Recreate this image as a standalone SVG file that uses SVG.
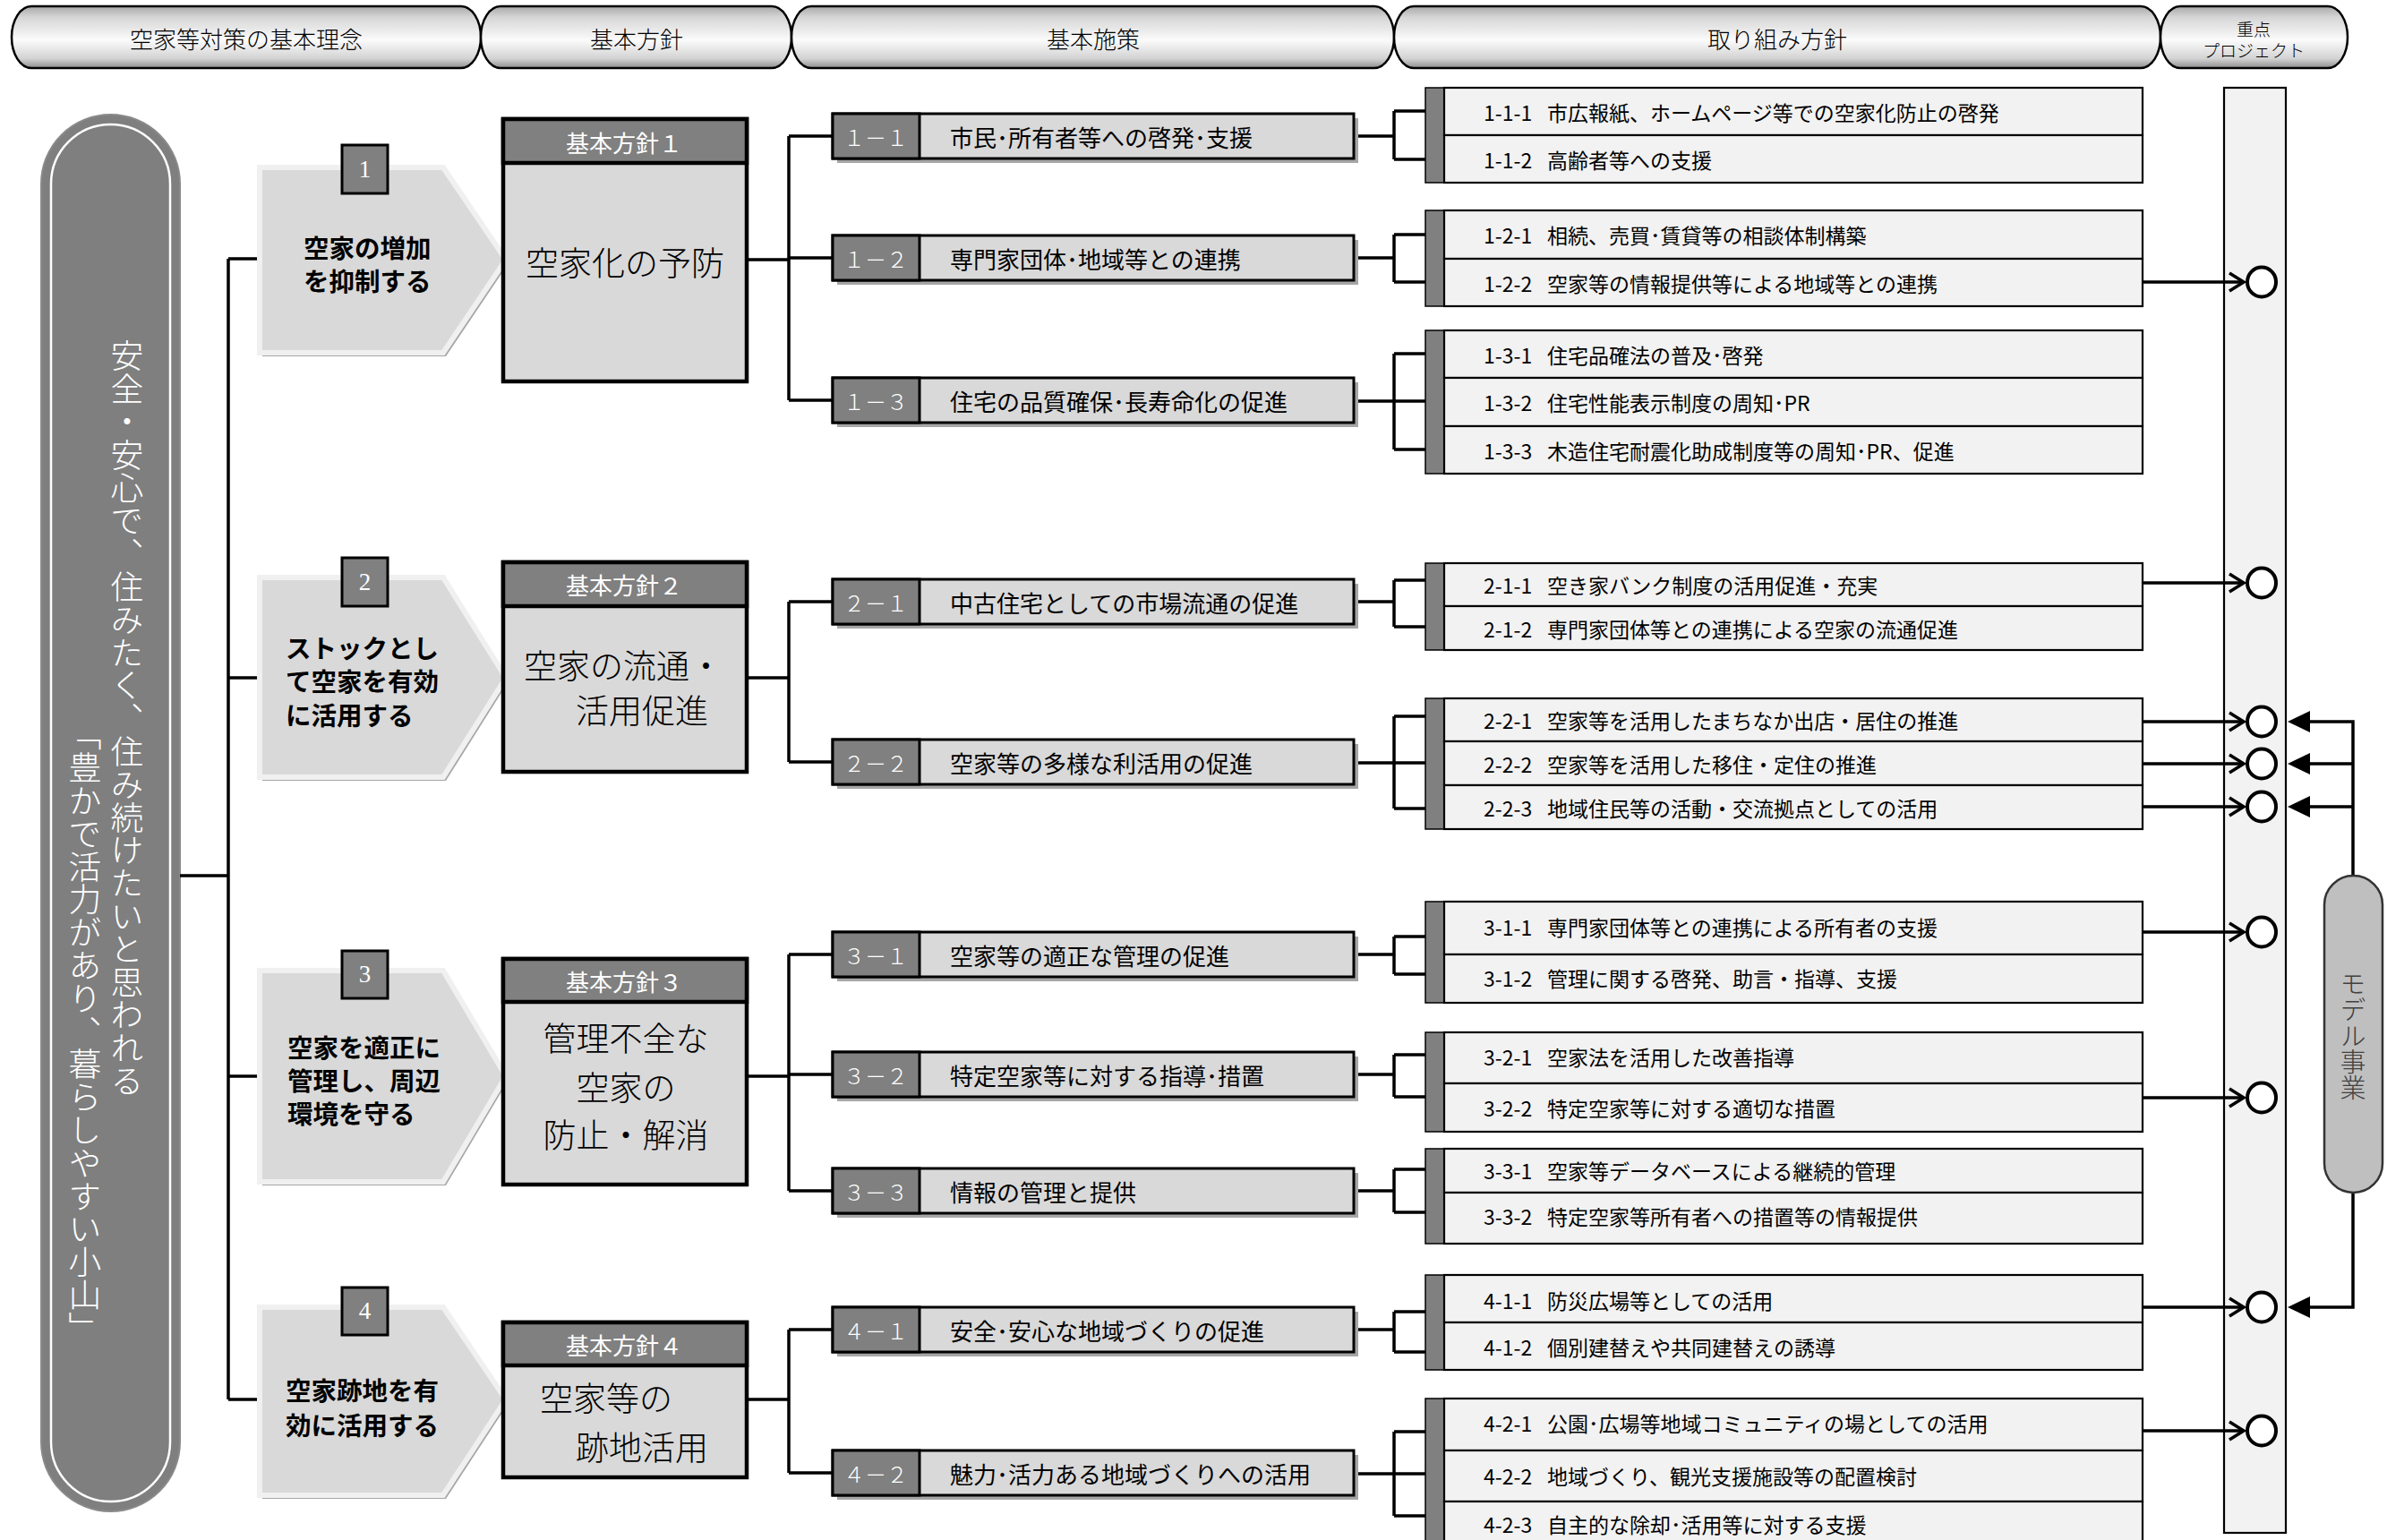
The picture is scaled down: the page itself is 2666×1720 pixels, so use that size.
<svg xmlns="http://www.w3.org/2000/svg" width="2666" height="1720" viewBox="0 0 2666 1720">
<defs>
<linearGradient id="hg" x1="0" y1="0" x2="0" y2="1">
<stop offset="0" stop-color="#a8a8a8"/>
<stop offset="0.18" stop-color="#d6d6d6"/>
<stop offset="0.55" stop-color="#fbfbfb"/>
<stop offset="0.85" stop-color="#d2d2d2"/>
<stop offset="1" stop-color="#8e8e8e"/>
</linearGradient>
</defs>
<style>
.hbar{fill:url(#hg);stroke:#000;stroke-width:2.5}
.ht{font-family:"Noto Sans CJK JP","Noto Sans",sans-serif;font-weight:300;font-size:26px;fill:#000;text-anchor:middle;dominant-baseline:central}
.ln{stroke:#000;stroke-width:3.5;fill:none}
.arr{fill:#d9d9d9;stroke:#f0f0f0;stroke-width:6;stroke-linejoin:miter}
.arrsh{fill:#a6a6a6}
.at{font-family:"Noto Sans CJK JP","Noto Sans",sans-serif;font-weight:700;font-size:28.5px;fill:#000;dominant-baseline:central}
.badge{fill:#808080;stroke:#000;stroke-width:3}
.bt{font-family:"Liberation Serif","Noto Sans CJK JP",serif;font-size:27px;fill:#fff;text-anchor:middle;dominant-baseline:central}
.hh{fill:#808080;stroke:#000;stroke-width:4.5}
.hb{fill:#d9d9d9;stroke:#000;stroke-width:4.5}
.hht{font-family:"Noto Sans CJK JP","Noto Sans",sans-serif;font-weight:400;font-size:26px;fill:#fff;text-anchor:middle;dominant-baseline:central}
.hbt{font-family:"Noto Sans CJK JP","Noto Sans",sans-serif;font-weight:300;font-size:37px;fill:#000;dominant-baseline:central}
.ssh{fill:#a6a6a6}
.sb{fill:#d9d9d9;stroke:#000;stroke-width:3}
.sl{fill:#808080;stroke:#000;stroke-width:3}
.slt{font-family:"Noto Sans CJK JP","Noto Sans",sans-serif;font-weight:300;font-size:24px;fill:#fff;text-anchor:middle;dominant-baseline:central}
.st{font-family:"Noto Sans CJK JP","Noto Sans",sans-serif;font-size:26px;fill:#000;dominant-baseline:central}
.strip{fill:#808080;stroke:#000;stroke-width:1.5}
.row{fill:#f2f2f2;stroke:#000;stroke-width:2.2}
.it{font-family:"Noto Sans CJK JP","Noto Sans",sans-serif;font-size:23px;fill:#000;dominant-baseline:central}
.circ{fill:#fff;stroke:#000;stroke-width:4}
.chev{fill:none;stroke:#000;stroke-width:3.5}
.tri{fill:#000}
.vt{font-family:"Noto Sans CJK JP","Noto Sans",sans-serif;font-weight:300;writing-mode:vertical-rl;fill:#fff}
</style>

<!-- Header bars -->
<g id="header">
<path class="hbar" d="M35,7 H515 A22 34.5 0 0 1 515,76 H35 A22 34.5 0 0 1 35,7 Z"/>
<path class="hbar" d="M559,7 H862 A22 34.5 0 0 1 862,76 H559 A22 34.5 0 0 1 559,7 Z"/>
<path class="hbar" d="M906,7 H1535 A22 34.5 0 0 1 1535,76 H906 A22 34.5 0 0 1 906,7 Z"/>
<path class="hbar" d="M1579,7 H2391 A22 34.5 0 0 1 2391,76 H1579 A22 34.5 0 0 1 1579,7 Z"/>
<path class="hbar" d="M2435,7 H2600 A22 34.5 0 0 1 2600,76 H2435 A22 34.5 0 0 1 2435,7 Z"/>
<text class="ht" x="275" y="42">空家等対策の基本理念</text>
<text class="ht" x="711" y="42">基本方針</text>
<text class="ht" x="1221" y="42">基本施策</text>
<text class="ht" x="1985" y="42">取り組み方針</text>
<text class="ht" x="2517" y="31" style="font-size:19px">重点</text>
<text class="ht" x="2517" y="55" style="font-size:19px">プロジェクト</text>
</g>

<!-- Basic philosophy pill -->
<g id="philosophy">
<rect x="46" y="128" width="155" height="1560" rx="77.5" ry="77.5" fill="#7f7f7f" stroke="#8a8a8a" stroke-width="2"/>
<rect x="57" y="139" width="133" height="1538" rx="66.5" ry="66.5" fill="none" stroke="#fff" stroke-width="2.5"/>
<text class="vt" x="142" y="379" style="font-size:36.8px">安全・安心で、住みたく、住み続けたいと思われる</text>
<text class="vt" x="95" y="802" style="font-size:36.8px">「豊かで活力があり、暮らしやすい小山」</text>
</g>

<!-- Connectors -->
<g id="connectors">
<path class="ln" d="M201,978 H255 M255,289 V1563 M255,289 H292 M255,757 H292 M255,1202 H292 M255,1563 H292"/>
<path class="ln" d="M834,290 H881 M881,152 V447 M881,152 H930 M881,288 H930 M881,447 H930"/>
<path class="ln" d="M834,757 H881 M881,672 V851 M881,672 H930 M881,851 H930"/>
<path class="ln" d="M834,1202 H881 M881,1066 V1330 M881,1066 H930 M881,1200 H930 M881,1330 H930"/>
<path class="ln" d="M834,1563 H881 M881,1485 V1645 M881,1485 H930 M881,1645 H930"/>
<path class="ln" d="M1512,152 H1557 M1557,124 V178 M1557,124 H1592 M1557,178 H1592"/>
<path class="ln" d="M1512,288 H1557 M1557,262 V315 M1557,262 H1592 M1557,315 H1592"/>
<path class="ln" d="M1512,448 H1592 M1557,395 V502 M1557,395 H1592 M1557,502 H1592"/>
<path class="ln" d="M1512,672 H1557 M1557,648 V700 M1557,648 H1592 M1557,700 H1592"/>
<path class="ln" d="M1512,852 H1592 M1557,800 V903 M1557,800 H1592 M1557,903 H1592"/>
<path class="ln" d="M1512,1066 H1557 M1557,1046 V1088 M1557,1046 H1592 M1557,1088 H1592"/>
<path class="ln" d="M1512,1200 H1557 M1557,1178 V1225 M1557,1178 H1592 M1557,1225 H1592"/>
<path class="ln" d="M1512,1330 H1557 M1557,1306 V1354 M1557,1306 H1592 M1557,1354 H1592"/>
<path class="ln" d="M1512,1485 H1557 M1557,1465 V1510 M1557,1465 H1592 M1557,1510 H1592"/>
<path class="ln" d="M1512,1646 H1592 M1557,1599 V1693 M1557,1599 H1592 M1557,1693 H1592"/>
</g>

<!-- Objectives (arrows) -->
<g id="obj1">
<polygon class="arrsh" points="293,191 498,191 568,294 498,398 293,398"/>
<polygon class="arr" points="290,187 495,187 565,290 495,394 290,394"/>
<rect class="badge" x="382" y="162" width="51" height="54"/>
<text class="bt" x="407.5" y="189">1</text>
<text class="at" x="339" y="275">空家の増加</text>
<text class="at" x="339" y="312">を抑制する</text>
</g>
<g id="obj2">
<polygon class="arrsh" points="293,649 498,649 568,761 498,872 293,872"/>
<polygon class="arr" points="290,645 495,645 565,757 495,868 290,868"/>
<rect class="badge" x="382" y="623" width="51" height="54"/>
<text class="bt" x="407.5" y="650">2</text>
<text class="at" x="319" y="722">ストックとし</text>
<text class="at" x="319" y="759">て空家を有効</text>
<text class="at" x="319" y="797">に活用する</text>
</g>
<g id="obj3">
<polygon class="arrsh" points="293,1088 498,1088 568,1206 498,1324 293,1324"/>
<polygon class="arr" points="290,1084 495,1084 565,1202 495,1320 290,1320"/>
<rect class="badge" x="382" y="1062" width="51" height="53"/>
<text class="bt" x="407.5" y="1088">3</text>
<text class="at" x="321" y="1168">空家を適正に</text>
<text class="at" x="321" y="1205">管理し、周辺</text>
<text class="at" x="321" y="1242">環境を守る</text>
</g>
<g id="obj4">
<polygon class="arrsh" points="293,1464 498,1464 568,1567 498,1674 293,1674"/>
<polygon class="arr" points="290,1460 495,1460 565,1563 495,1670 290,1670"/>
<rect class="badge" x="382" y="1438" width="51" height="53"/>
<text class="bt" x="407.5" y="1464">4</text>
<text class="at" x="319" y="1551">空家跡地を有</text>
<text class="at" x="319" y="1590">効に活用する</text>
</g>

<!-- Basic policies -->
<g id="policy1">
<rect class="hb" x="562" y="133" width="272" height="293"/>
<rect class="hh" x="562" y="133" width="272" height="49"/>
<text class="hht" x="697" y="158">基本方針１</text>
<text class="hbt" x="698" y="292" text-anchor="middle">空家化の予防</text>
</g>
<g id="policy2">
<rect class="hb" x="562" y="628" width="272" height="234"/>
<rect class="hh" x="562" y="628" width="272" height="49"/>
<text class="hht" x="697" y="652">基本方針２</text>
<text class="hbt" x="585" y="742">空家の流通・</text>
<text class="hbt" x="643" y="792">活用促進</text>
</g>
<g id="policy3">
<rect class="hb" x="562" y="1071" width="272" height="252"/>
<rect class="hh" x="562" y="1071" width="272" height="48"/>
<text class="hht" x="697" y="1095">基本方針３</text>
<text class="hbt" x="699" y="1158" text-anchor="middle">管理不全な</text>
<text class="hbt" x="699" y="1213" text-anchor="middle">空家の</text>
<text class="hbt" x="699" y="1266" text-anchor="middle">防止・解消</text>
</g>
<g id="policy4">
<rect class="hb" x="562" y="1477" width="272" height="173"/>
<rect class="hh" x="562" y="1477" width="272" height="48"/>
<text class="hht" x="697" y="1501">基本方針４</text>
<text class="hbt" x="603" y="1560">空家等の</text>
<text class="hbt" x="643" y="1615">跡地活用</text>
</g>

<!-- Basic measures -->
<g id="m1-1"><rect class="ssh" x="935" y="132" width="582" height="50"/><rect class="sb" x="930" y="127" width="582" height="50"/><rect class="sl" x="930" y="127" width="97" height="50"/><text class="slt" x="978" y="152">１－１</text><text class="st" x="1061" y="152">市民･所有者等への啓発･支援</text></g>
<g id="m1-2"><rect class="ssh" x="935" y="268" width="582" height="50"/><rect class="sb" x="930" y="263" width="582" height="50"/><rect class="sl" x="930" y="263" width="97" height="50"/><text class="slt" x="978" y="288">１－２</text><text class="st" x="1061" y="288">専門家団体･地域等との連携</text></g>
<g id="m1-3"><rect class="ssh" x="935" y="427" width="582" height="50"/><rect class="sb" x="930" y="422" width="582" height="50"/><rect class="sl" x="930" y="422" width="97" height="50"/><text class="slt" x="978" y="447">１－３</text><text class="st" x="1061" y="447">住宅の品質確保･長寿命化の促進</text></g>
<g id="m2-1"><rect class="ssh" x="935" y="652" width="582" height="50"/><rect class="sb" x="930" y="647" width="582" height="50"/><rect class="sl" x="930" y="647" width="97" height="50"/><text class="slt" x="978" y="672">２－１</text><text class="st" x="1061" y="672">中古住宅としての市場流通の促進</text></g>
<g id="m2-2"><rect class="ssh" x="935" y="831" width="582" height="50"/><rect class="sb" x="930" y="826" width="582" height="50"/><rect class="sl" x="930" y="826" width="97" height="50"/><text class="slt" x="978" y="851">２－２</text><text class="st" x="1061" y="851">空家等の多様な利活用の促進</text></g>
<g id="m3-1"><rect class="ssh" x="935" y="1046" width="582" height="50"/><rect class="sb" x="930" y="1041" width="582" height="50"/><rect class="sl" x="930" y="1041" width="97" height="50"/><text class="slt" x="978" y="1066">３－１</text><text class="st" x="1061" y="1066">空家等の適正な管理の促進</text></g>
<g id="m3-2"><rect class="ssh" x="935" y="1180" width="582" height="50"/><rect class="sb" x="930" y="1175" width="582" height="50"/><rect class="sl" x="930" y="1175" width="97" height="50"/><text class="slt" x="978" y="1200">３－２</text><text class="st" x="1061" y="1200">特定空家等に対する指導･措置</text></g>
<g id="m3-3"><rect class="ssh" x="935" y="1310" width="582" height="50"/><rect class="sb" x="930" y="1305" width="582" height="50"/><rect class="sl" x="930" y="1305" width="97" height="50"/><text class="slt" x="978" y="1330">３－３</text><text class="st" x="1061" y="1330">情報の管理と提供</text></g>
<g id="m4-1"><rect class="ssh" x="935" y="1465" width="582" height="50"/><rect class="sb" x="930" y="1460" width="582" height="50"/><rect class="sl" x="930" y="1460" width="97" height="50"/><text class="slt" x="978" y="1485">４－１</text><text class="st" x="1061" y="1485">安全･安心な地域づくりの促進</text></g>
<g id="m4-2"><rect class="ssh" x="935" y="1625" width="582" height="50"/><rect class="sb" x="930" y="1620" width="582" height="50"/><rect class="sl" x="930" y="1620" width="97" height="50"/><text class="slt" x="978" y="1645">４－２</text><text class="st" x="1061" y="1645">魅力･活力ある地域づくりへの活用</text></g>

<!-- Action policies -->
<g id="a1-1">
<rect class="strip" x="1592" y="98" width="21" height="106"/>
<rect class="row" x="1613" y="98" width="780" height="53"/><rect class="row" x="1613" y="151" width="780" height="53"/>
<text class="it" y="124.5"><tspan x="1657">1-1-1</tspan><tspan x="1728">市広報紙、ホームページ等での空家化防止の啓発</tspan></text>
<text class="it" y="177.5"><tspan x="1657">1-1-2</tspan><tspan x="1728">高齢者等への支援</tspan></text>
</g>
<g id="a1-2">
<rect class="strip" x="1592" y="235" width="21" height="107"/>
<rect class="row" x="1613" y="235" width="780" height="54"/><rect class="row" x="1613" y="289" width="780" height="53"/>
<text class="it" y="262"><tspan x="1657">1-2-1</tspan><tspan x="1728">相続、売買･賃貸等の相談体制構築</tspan></text>
<text class="it" y="315.5"><tspan x="1657">1-2-2</tspan><tspan x="1728">空家等の情報提供等による地域等との連携</tspan></text>
</g>
<g id="a1-3">
<rect class="strip" x="1592" y="369" width="21" height="160"/>
<rect class="row" x="1613" y="369" width="780" height="53"/><rect class="row" x="1613" y="422" width="780" height="54"/><rect class="row" x="1613" y="476" width="780" height="53"/>
<text class="it" y="395.5"><tspan x="1657">1-3-1</tspan><tspan x="1728">住宅品確法の普及･啓発</tspan></text>
<text class="it" y="449"><tspan x="1657">1-3-2</tspan><tspan x="1728">住宅性能表示制度の周知･PR</tspan></text>
<text class="it" y="502.5"><tspan x="1657">1-3-3</tspan><tspan x="1728">木造住宅耐震化助成制度等の周知･PR、促進</tspan></text>
</g>
<g id="a2-1">
<rect class="strip" x="1592" y="629" width="21" height="97"/>
<rect class="row" x="1613" y="629" width="780" height="48"/><rect class="row" x="1613" y="677" width="780" height="49"/>
<text class="it" y="653"><tspan x="1657">2-1-1</tspan><tspan x="1728">空き家バンク制度の活用促進・充実</tspan></text>
<text class="it" y="701.5"><tspan x="1657">2-1-2</tspan><tspan x="1728">専門家団体等との連携による空家の流通促進</tspan></text>
</g>
<g id="a2-2">
<rect class="strip" x="1592" y="780" width="21" height="146"/>
<rect class="row" x="1613" y="780" width="780" height="48"/><rect class="row" x="1613" y="828" width="780" height="49"/><rect class="row" x="1613" y="877" width="780" height="49"/>
<text class="it" y="804"><tspan x="1657">2-2-1</tspan><tspan x="1728">空家等を活用したまちなか出店・居住の推進</tspan></text>
<text class="it" y="852.5"><tspan x="1657">2-2-2</tspan><tspan x="1728">空家等を活用した移住・定住の推進</tspan></text>
<text class="it" y="901.5"><tspan x="1657">2-2-3</tspan><tspan x="1728">地域住民等の活動・交流拠点としての活用</tspan></text>
</g>
<g id="a3-1">
<rect class="strip" x="1592" y="1007" width="21" height="113"/>
<rect class="row" x="1613" y="1007" width="780" height="59"/><rect class="row" x="1613" y="1066" width="780" height="54"/>
<text class="it" y="1035"><tspan x="1657">3-1-1</tspan><tspan x="1728">専門家団体等との連携による所有者の支援</tspan></text>
<text class="it" y="1092"><tspan x="1657">3-1-2</tspan><tspan x="1728">管理に関する啓発、助言・指導、支援</tspan></text>
</g>
<g id="a3-2">
<rect class="strip" x="1592" y="1153" width="21" height="111"/>
<rect class="row" x="1613" y="1153" width="780" height="57"/><rect class="row" x="1613" y="1210" width="780" height="54"/>
<text class="it" y="1180"><tspan x="1657">3-2-1</tspan><tspan x="1728">空家法を活用した改善指導</tspan></text>
<text class="it" y="1237"><tspan x="1657">3-2-2</tspan><tspan x="1728">特定空家等に対する適切な措置</tspan></text>
</g>
<g id="a3-3">
<rect class="strip" x="1592" y="1283" width="21" height="106"/>
<rect class="row" x="1613" y="1283" width="780" height="49"/><rect class="row" x="1613" y="1332" width="780" height="57"/>
<text class="it" y="1307"><tspan x="1657">3-3-1</tspan><tspan x="1728">空家等データベースによる継続的管理</tspan></text>
<text class="it" y="1358"><tspan x="1657">3-3-2</tspan><tspan x="1728">特定空家等所有者への措置等の情報提供</tspan></text>
</g>
<g id="a4-1">
<rect class="strip" x="1592" y="1424" width="21" height="106"/>
<rect class="row" x="1613" y="1424" width="780" height="53"/><rect class="row" x="1613" y="1477" width="780" height="53"/>
<text class="it" y="1452"><tspan x="1657">4-1-1</tspan><tspan x="1728">防災広場等としての活用</tspan></text>
<text class="it" y="1503.5"><tspan x="1657">4-1-2</tspan><tspan x="1728">個別建替えや共同建替えの誘導</tspan></text>
</g>
<g id="a4-2">
<rect class="strip" x="1592" y="1562" width="21" height="172"/>
<rect class="row" x="1613" y="1562" width="780" height="58"/><rect class="row" x="1613" y="1620" width="780" height="57"/><rect class="row" x="1613" y="1677" width="780" height="57"/>
<text class="it" y="1589"><tspan x="1657">4-2-1</tspan><tspan x="1728">公園･広場等地域コミュニティの場としての活用</tspan></text>
<text class="it" y="1648"><tspan x="1657">4-2-2</tspan><tspan x="1728">地域づくり、観光支援施設等の配置検討</tspan></text>
<text class="it" y="1702"><tspan x="1657">4-2-3</tspan><tspan x="1728">自主的な除却･活用等に対する支援</tspan></text>
</g>

<!-- Priority project column -->
<g id="priority">
<rect x="2484" y="98" width="69" height="1614" fill="#f2f2f2" stroke="#000" stroke-width="2.2"/>
</g>

<g id="priority-links">
<path class="ln" d="M2393,315 H2505 M2393,651 H2505 M2393,806 H2505 M2393,853 H2505 M2393,901 H2505 M2393,1041 H2505 M2393,1226 H2505 M2393,1460 H2505 M2393,1598 H2505"/>
<path class="chev" d="M2490,305 L2506,315 L2490,325 M2490,641 L2506,651 L2490,661 M2490,796 L2506,806 L2490,816 M2490,843 L2506,853 L2490,863 M2490,891 L2506,901 L2490,911 M2490,1031 L2506,1041 L2490,1051 M2490,1216 L2506,1226 L2490,1236 M2490,1450 L2506,1460 L2490,1470 M2490,1588 L2506,1598 L2490,1608"/>
<ellipse class="circ" cx="2526" cy="315" rx="16" ry="16.5"/>
<ellipse class="circ" cx="2526" cy="651" rx="16" ry="16.5"/>
<ellipse class="circ" cx="2526" cy="806" rx="16" ry="16.5"/>
<ellipse class="circ" cx="2526" cy="853" rx="16" ry="16.5"/>
<ellipse class="circ" cx="2526" cy="901" rx="16" ry="16.5"/>
<ellipse class="circ" cx="2526" cy="1041" rx="16" ry="16.5"/>
<ellipse class="circ" cx="2526" cy="1226" rx="16" ry="16.5"/>
<ellipse class="circ" cx="2526" cy="1460" rx="16" ry="16.5"/>
<ellipse class="circ" cx="2526" cy="1598" rx="16" ry="16.5"/>
<path class="ln" d="M2628,978 V806 H2578 M2628,853 H2578 M2628,901 H2578 M2628,1332 V1460 H2578"/>
<polygon class="tri" points="2555,806 2580,794 2580,818"/>
<polygon class="tri" points="2555,853 2580,841 2580,865"/>
<polygon class="tri" points="2555,901 2580,889 2580,913"/>
<polygon class="tri" points="2555,1460 2580,1448 2580,1472"/>
</g>

<!-- Model project -->
<g id="model">
<rect x="2596" y="978" width="65" height="354" rx="32.5" ry="32.5" fill="#bfbfbf" stroke="#333" stroke-width="2.5"/>
<text class="vt" x="2628" y="1084" style="font-size:29px;fill:#404040">モデル事業</text>
</g>
</svg>
